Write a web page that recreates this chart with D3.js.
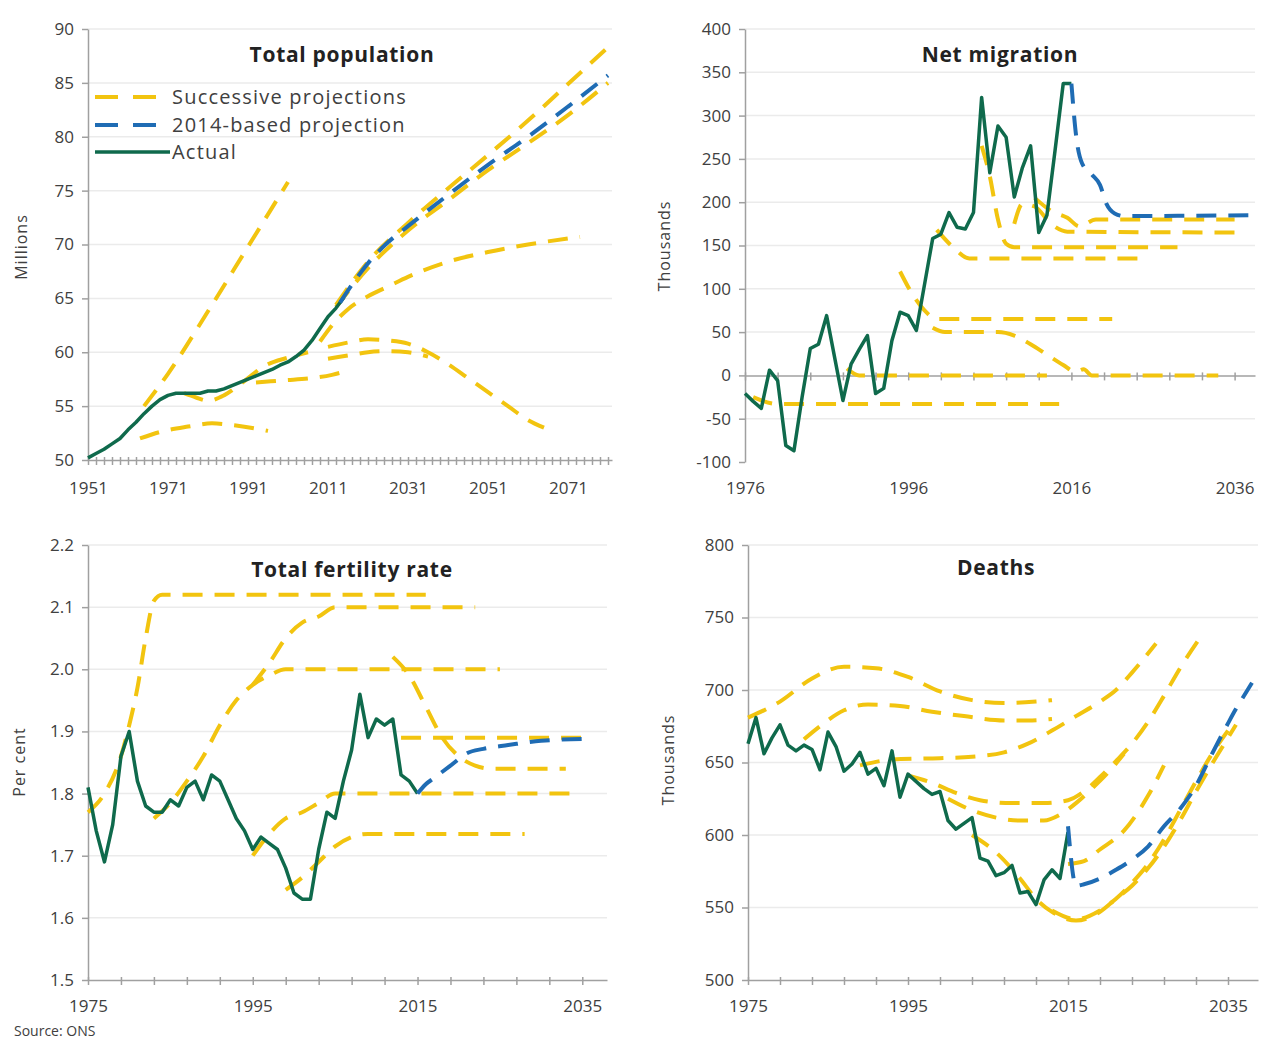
<!DOCTYPE html>
<html><head><meta charset="utf-8">
<script src="https://cdn.jsdelivr.net/npm/d3@7"></script>
<style>body{margin:0;background:#fff}text{font-family:"Open Sans",sans-serif}</style>
</head><body><svg id="c" width="1262" height="1039"></svg>
<script>
// ---------- Total population (millions) ----------
const popXLabels = [1951,1971,1991,2011,2031,2051,2071];
const popYTicks = [50,55,60,65,70,75,80,85,90];
const popActual = [[1951,50.2],[1953,50.6],[1955,51.0],[1957,51.5],[1959,52.0],[1961,52.8],[1963,53.5],[1965,54.3],[1967,55.0],[1969,55.6],[1971,56.0],[1973,56.2],[1975,56.2],[1977,56.2],[1979,56.2],[1981,56.4],[1983,56.4],[1985,56.6],[1987,56.9],[1989,57.2],[1991,57.5],[1993,57.8],[1995,58.1],[1997,58.4],[1999,58.8],[2001,59.1],[2003,59.6],[2005,60.2],[2007,61.1],[2009,62.2],[2011,63.3],[2013,64.1],[2015,65.1]];
const popProj2014 = [[2014,64.6],[2018,66.8],[2022,68.7],[2026,70.2],[2031,71.7],[2041,74.6],[2051,77.4],[2061,80.0],[2071,82.8],[2081,85.7]];
const popSuccessive = [
  [[1965,55.0],[1971,58.0],[1981,63.8],[1991,69.8],[2001,75.8]],
  [[1964,52.0],[1970,52.7],[1976,53.1],[1982,53.4],[1988,53.2],[1996,52.7]],
  [[1975,56.2],[1978,55.8],[1981,55.5],[1985,56.0],[1990,57.3],[1995,58.7],[2001,59.5],[2006,60.0]],
  [[1993,57.2],[2000,57.4],[2007,57.6],[2012,57.9],[2016,58.3]],
  [[2009,61.0],[2012,62.5],[2016,64.0],[2021,65.2],[2026,66.1],[2031,67.0],[2041,68.4],[2051,69.3],[2061,70.0],[2074,70.7]],
  [[2011,60.5],[2016,60.9],[2021,61.2],[2026,61.1],[2031,60.8],[2036,60.0],[2041,58.9],[2046,57.6],[2051,56.3],[2056,55.0],[2061,53.7],[2065,53.0]],
  [[2011,59.4],[2016,59.7],[2021,60.0],[2026,60.1],[2031,60.0],[2036,59.6]],
  [[2013,64.4],[2021,68.4],[2031,72.0],[2041,75.2],[2051,78.3],[2061,81.5],[2071,84.9],[2081,88.3]],
  [[2013,64.2],[2021,67.8],[2031,71.3],[2041,74.1],[2051,76.9],[2061,79.4],[2071,82.0],[2081,85.0]]
];

// ---------- Net migration (thousands) ----------
const migXLabels = [1976,1996,2016,2036];
const migYTicks = [-100,-50,0,50,100,150,200,250,300,350,400];
const migYears = d3.range(1976,2017);
const migValues = [-21,-30,-38,6,-6,-81,-87,-25,31,36,69,20,-29,13,30,46,-21,-15,40,73,69,52,105,158,163,188,171,169,188,321,234,288,275,206,240,265,165,185,260,337,337];
const migProj2014 = [[2016,337],[2016.6,275],[2017.3,245],[2018.5,232],[2019.5,220],[2020.3,198],[2021.3,187],[2022.5,184],[2038,185]];
const migSuccessive = [
  [[1977,-25],[1980,-33],[1990,-33],[2014.5,-33]],
  [[1988.5,8],[1990,0],[2013,0]],
  [[1995,120],[1996.5,94],[1998,75],[1999.5,65],[2001,65],[2021,65]],
  [[1999,55],[2000.5,50],[2007,50],[2009,46],[2011,36],[2013,24],[2015,12],[2016.5,4],[2017.5,7],[2018.5,0],[2034,0]],
  [[1999.5,168],[2001.5,148],[2003.5,135],[2025.5,135]],
  [[2005,265],[2006,230],[2007,180],[2008,152],[2009,148],[2029,148]],
  [[2009,175],[2010,198],[2011.5,195],[2013.5,175],[2015.5,166],[2036.5,165]],
  [[2011.5,205],[2013.5,190],[2015.5,182],[2017,172],[2019,180],[2036,180]]
];

// ---------- Total fertility rate ----------
const tfrXLabels = [1975,1995,2015,2035];
const tfrYTicks = [1.5,1.6,1.7,1.8,1.9,2.0,2.1,2.2];
const tfrYears = d3.range(1975,2016);
const tfrValues = [1.81,1.74,1.69,1.75,1.86,1.90,1.82,1.78,1.77,1.77,1.79,1.78,1.81,1.82,1.79,1.83,1.82,1.79,1.76,1.74,1.71,1.73,1.72,1.71,1.68,1.64,1.63,1.63,1.71,1.77,1.76,1.82,1.87,1.96,1.89,1.92,1.91,1.92,1.83,1.82,1.80];
const tfrProj2014 = [[2015,1.80],[2016,1.815],[2017,1.825],[2019,1.845],[2021,1.865],[2023,1.872],[2026,1.878],[2030,1.885],[2036,1.888]];
const tfrSuccessive = [
  [[1975,1.77],[1977,1.80],[1979,1.86],[1980,1.91],[1981,1.97],[1982,2.05],[1983,2.11],[1984,2.12],[2016,2.12]],
  [[1983,1.76],[1985,1.785],[1987,1.82],[1989,1.86],[1991,1.91],[1993,1.95],[1995,1.975],[1997,1.99],[1999,2.0],[2025,2.0]],
  [[1995,1.975],[1997,2.01],[1999,2.05],[2001,2.075],[2003,2.085],[2005,2.10],[2022,2.10]],
  [[1995,1.70],[1997,1.735],[1999,1.76],[2001,1.77],[2003,1.785],[2005,1.80],[2034,1.80]],
  [[1999,1.645],[2001,1.665],[2003,1.69],[2005,1.715],[2007,1.73],[2009,1.735],[2028,1.735]],
  [[2012,2.02],[2014,1.99],[2016,1.94],[2018,1.89],[2020,1.86],[2022,1.845],[2024,1.84],[2033,1.84]],
  [[2013,1.89],[2036,1.89]]
];

// ---------- Deaths (thousands) ----------
const dthXLabels = [1975,1995,2015,2035];
const dthYTicks = [500,550,600,650,700,750,800];
const dthYears = d3.range(1975,2016);
const dthValues = [663,681,656,667,676,662,658,662,659,645,671,661,644,649,657,642,646,634,658,626,642,637,632,628,630,610,604,608,612,584,582,572,574,579,560,561,552,569,576,570,602];
const dthProj2014 = [[2015,606],[2016,565],[2017,566],[2019,570],[2021,576],[2023,583],[2025,592],[2027,606],[2029,618],[2031,634],[2033,656],[2035,677],[2036,687],[2037,696],[2038,705]];
const dthSuccessive = [
  [[1975,681],[1979,692],[1983,708],[1987,716],[1991,715],[1995,709],[1999,699],[2003,693],[2007,691],[2011,692],[2013,693]],
  [[1982,666],[1984,675],[1987,686],[1990,690],[1994,689],[1998,685],[2002,682],[2007,679],[2010,679],[2013,680]],
  [[1989,648],[1993,652],[1999,653],[2003,654],[2007,657],[2010,663],[2013,672],[2016,682],[2019,692],[2021,700],[2023,712],[2026,732]],
  [[1995,641],[1998,636],[2001,629],[2004,624],[2008,622],[2012,622],[2015,624],[2017,630],[2019,640],[2021,651],[2023,663],[2025,678],[2027,696],[2029,715],[2032,740]],
  [[2000,625],[2003,617],[2006,612],[2009,610],[2012,610],[2014,614],[2016,622],[2018,632],[2020,643],[2022,656]],
  [[2015,580],[2017,582],[2019,590],[2022,603],[2025,627],[2027,648]],
  [[2003,600],[2006,588],[2009,570],[2011,556],[2013,547],[2016,541],[2019,547],[2021,556],[2023,565],[2025,577],[2027,592],[2029,610],[2031,630],[2033,649],[2035,667],[2036,676]],
  [[2013,548],[2016,542],[2019,548],[2021,556],[2023,567],[2025,580],[2027,597],[2029,617],[2031,637],[2033,656],[2035,672]]
];

const YELLOW = '#F2C40F', BLUE = '#1F6CB4', GREEN = '#0F6A4C';
const AXIS = '#a0a0a0', GRID = '#ebebeb', TXT = '#404040';
const DASH = '20,12';
const svg = d3.select('#c');

function panel(cfg){
  const x = d3.scaleLinear().domain(cfg.xDomain).range([cfg.left, cfg.right]);
  const y = d3.scaleLinear().domain(cfg.yDomain).range([cfg.bottom, cfg.top]);
  const g = svg.append('g');
  const axisVal = cfg.axisAt != null ? cfg.axisAt : cfg.yDomain[0];
  g.append('g').selectAll('line').data(cfg.yTicks.filter(v => v !== axisVal && v !== cfg.yDomain[0])).join('line')
    .attr('x1', cfg.left).attr('x2', cfg.right).attr('y1', d => y(d)).attr('y2', d => y(d))
    .attr('stroke', GRID).attr('stroke-width', 1.5);
  const ya = g.append('g').attr('transform', `translate(${cfg.left},0)`)
    .call(d3.axisLeft(y).tickValues(cfg.yTicks).tickFormat(cfg.yFormat).tickSize(6).tickSizeOuter(0).tickPadding(8));
  ya.select('.domain').attr('stroke', AXIS).attr('stroke-width', 1.5);
  ya.selectAll('.tick line').attr('stroke', AXIS).attr('stroke-width', 1.5);
  ya.selectAll('.tick text').attr('fill', TXT).style('font-size', '17px').style('font-family', '"Open Sans",sans-serif');
  const minorTicks = d3.range(cfg.xDomain[0], cfg.xDomain[1] + 0.001, cfg.minor);
  const xa = g.append('g').attr('transform', `translate(0,${y(axisVal)})`)
    .call(d3.axisBottom(x).tickValues(minorTicks).tickFormat('').tickSize(5).tickSizeOuter(0));
  xa.select('.domain').attr('stroke', AXIS).attr('stroke-width', 1.5);
  xa.selectAll('.tick line').attr('stroke', AXIS).attr('stroke-width', 1.5).attr('y1', -3).attr('y2', 5);
  const xl = g.append('g').attr('transform', `translate(0,${cfg.bottom})`)
    .call(d3.axisBottom(x).tickValues(cfg.xLabels).tickFormat(d3.format('d')).tickSize(0).tickPadding(cfg.labelPad));
  xl.select('.domain').remove();
  xl.selectAll('.tick text').attr('fill', TXT).style('font-size', '17px').style('font-family', '"Open Sans",sans-serif');
  const smooth = d3.line().x(d => x(d[0])).y(d => y(d[1])).curve(d3.curveMonotoneX);
  const straight = d3.line().x(d => x(d[0])).y(d => y(d[1]));
  g.append('g').selectAll('path').data(cfg.successive).join('path')
    .attr('d', smooth).attr('fill', 'none').attr('stroke', YELLOW).attr('stroke-width', 4).attr('stroke-dasharray', DASH);
  g.append('path').datum(cfg.actual).attr('d', straight).attr('fill', 'none')
    .attr('stroke', GREEN).attr('stroke-width', 3.5).attr('stroke-linejoin', 'round');
  g.append('path').datum(cfg.proj).attr('d', smooth).attr('fill', 'none')
    .attr('stroke', BLUE).attr('stroke-width', 4).attr('stroke-dasharray', DASH);
  g.append('text').attr('x', cfg.titlePos[0]).attr('y', cfg.titlePos[1]).attr('text-anchor', 'middle')
    .attr('fill', '#222').style('font-size', '21px').style('font-weight', 'bold').style('letter-spacing', '0.7px').text(cfg.title);
  g.append('text').attr('transform', `translate(${cfg.yTitlePos[0]},${cfg.yTitlePos[1]}) rotate(-90)`)
    .attr('text-anchor', 'middle').attr('fill', TXT).style('font-size', '16px').style('letter-spacing', '1px').text(cfg.yTitle);
  return {x, y, g};
}

const zip = (years, vals) => years.map((yr, i) => [yr, vals[i]]);

panel({left: 88, right: 612, top: 29, bottom: 460, xDomain: [1951, 2082], yDomain: [50, 90],
  yTicks: popYTicks, yFormat: d3.format('d'), xLabels: popXLabels, minor: 2, labelPad: 22,
  actual: popActual, proj: popProj2014, successive: popSuccessive,
  title: 'Total population', titlePos: [342, 62], yTitle: 'Millions', yTitlePos: [27, 247]});

panel({left: 745, right: 1255, top: 29, bottom: 462, xDomain: [1976, 2038.5], yDomain: [-100, 400], axisAt: 0,
  yTicks: migYTicks, yFormat: d => String(d), xLabels: migXLabels, minor: 4, labelPad: 20,
  actual: zip(migYears, migValues), proj: migProj2014, successive: migSuccessive,
  title: 'Net migration', titlePos: [1000, 62], yTitle: 'Thousands', yTitlePos: [670, 246]});

panel({left: 88, right: 607, top: 545, bottom: 980, xDomain: [1975, 2038], yDomain: [1.5, 2.2],
  yTicks: tfrYTicks, yFormat: d3.format('.1f'), xLabels: tfrXLabels, minor: 4, labelPad: 20,
  actual: zip(tfrYears, tfrValues), proj: tfrProj2014, successive: tfrSuccessive,
  title: 'Total fertility rate', titlePos: [352, 577], yTitle: 'Per cent', yTitlePos: [25, 762]});

panel({left: 748, right: 1258, top: 545, bottom: 980, xDomain: [1975, 2038.75], yDomain: [500, 800],
  yTicks: dthYTicks, yFormat: d3.format('d'), xLabels: dthXLabels, minor: 4, labelPad: 20,
  actual: zip(dthYears, dthValues), proj: dthProj2014, successive: dthSuccessive,
  title: 'Deaths', titlePos: [996, 575], yTitle: 'Thousands', yTitlePos: [674, 760]});

const legendItems = [
  {label: 'Successive projections', color: YELLOW, dash: true, y: 97, x2: 160},
  {label: '2014-based projection', color: BLUE, dash: true, y: 125, x2: 160},
  {label: 'Actual', color: GREEN, dash: false, y: 152, x2: 170}
];
const lg = svg.append('g');
legendItems.forEach(it => {
  lg.append('line').attr('x1', 95).attr('x2', it.x2).attr('y1', it.y).attr('y2', it.y)
    .attr('stroke', it.color).attr('stroke-width', it.dash ? 4 : 3.5).attr('stroke-dasharray', it.dash ? '23,15' : null);
  lg.append('text').attr('x', 172).attr('y', it.y + 7).attr('fill', TXT).style('font-size', '20px').style('letter-spacing', '1.2px').text(it.label);
});

svg.append('text').attr('x', 14).attr('y', 1036).attr('fill', TXT).style('font-size', '14px').text('Source: ONS');
</script></body></html>
